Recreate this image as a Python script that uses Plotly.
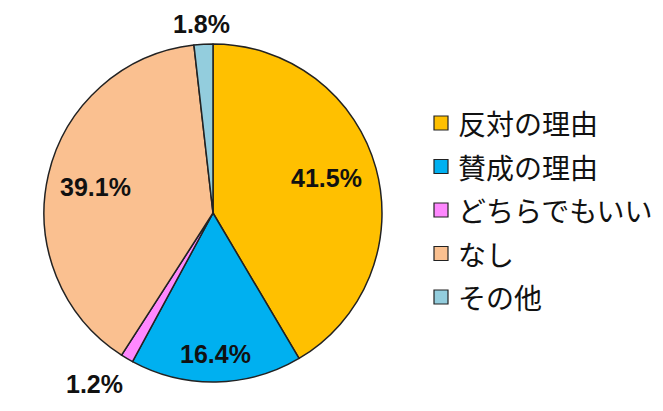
import plotly.graph_objects as go

# Survey breakdown
categories = ["反対の理由", "賛成の理由", "どちらでもいい", "なし", "その他"]
shares = [41.5, 16.4, 1.2, 39.1, 1.8]
colors = ["#FFC000", "#00B0F0", "#FF88FF", "#FAC090", "#93CDDD"]

W, H = 663, 411

# pie geometry in pixels
cx, cy, R = 213, 213, 169

fig = go.Figure(
    go.Pie(
        labels=categories,
        values=shares,
        sort=False,
        direction="clockwise",
        rotation=0,
        marker=dict(colors=colors, line=dict(color="#222222", width=1.5)),
        textinfo="none",
        hoverinfo="label+percent",
        showlegend=False,
        domain=dict(
            x=[(cx - R) / W, (cx + R) / W],
            y=[1 - (cy + R) / H, 1 - (cy - R) / H],
        ),
    )
)

# percentage label centres (pixels)
label_pos = [(326, 178), (215, 354), (94, 384), (95, 187), (202, 24)]

annotations = []
for v, (px, py) in zip(shares, label_pos):
    annotations.append(
        dict(
            x=px / W, y=1 - py / H, xref="paper", yref="paper",
            text=f"<b>{v:.1f}%</b>", showarrow=False,
            xanchor="center", yanchor="middle",
            font=dict(family="Liberation Sans, Arial, sans-serif", size=25, color="#111111"),
        )
    )

# legend built from squares and text
shapes = []
leg_x0, leg_y0, leg_dy, sq = 434, 123, 43.5, 14
for i, (name, col) in enumerate(zip(categories, colors)):
    yc = leg_y0 + i * leg_dy
    shapes.append(
        dict(
            type="rect", xref="paper", yref="paper",
            x0=leg_x0 / W, x1=(leg_x0 + sq) / W,
            y0=1 - (yc + sq / 2) / H, y1=1 - (yc - sq / 2) / H,
            fillcolor=col, line=dict(color="#222222", width=1.2),
        )
    )
    annotations.append(
        dict(
            x=(leg_x0 + sq + 8) / W, y=1 - yc / H, xref="paper", yref="paper",
            text=name, showarrow=False, xanchor="left", yanchor="middle",
            font=dict(family="Noto Sans CJK JP", size=28, color="#111111"),
        )
    )

fig.update_layout(
    width=W, height=H,
    margin=dict(l=0, r=0, t=0, b=0),
    paper_bgcolor="white", plot_bgcolor="white",
    annotations=annotations, shapes=shapes,
)

fig.write_html("out.html")
